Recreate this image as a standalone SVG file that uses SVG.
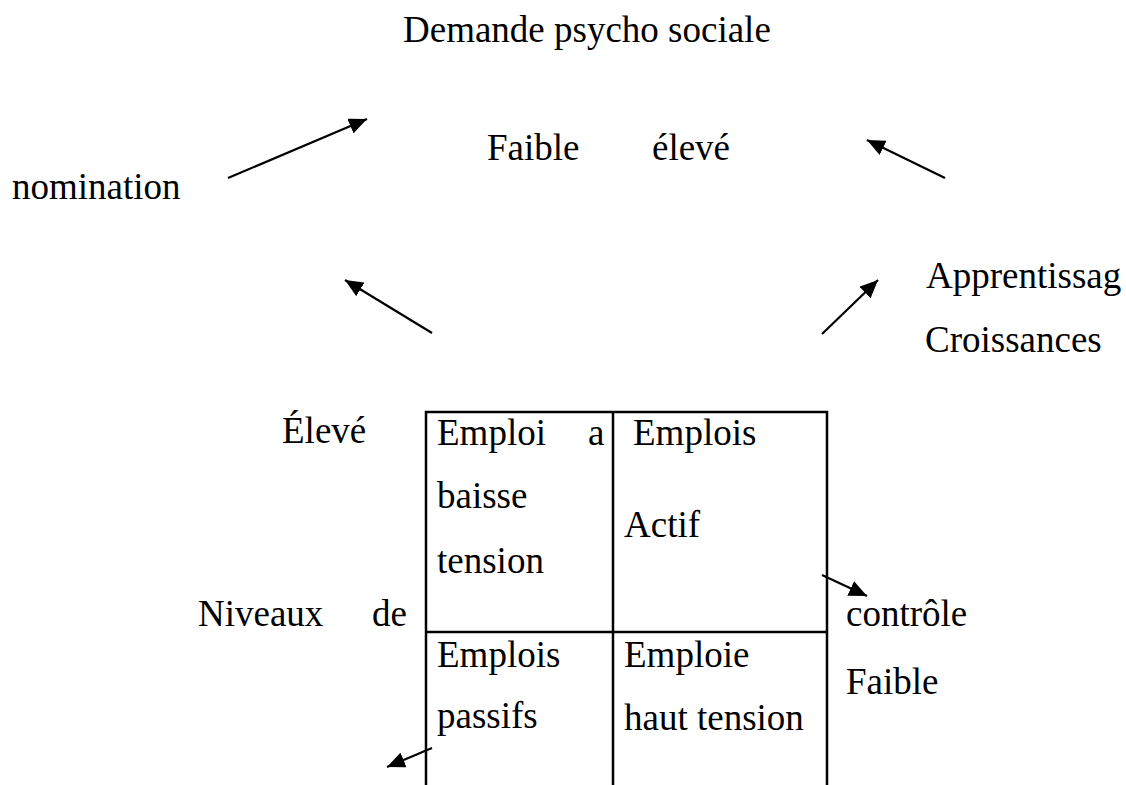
<svg xmlns="http://www.w3.org/2000/svg" width="1126" height="785" viewBox="0 0 1126 785">
<style>
text{font-family:"Liberation Serif","Times New Roman",serif;font-size:37px;fill:#000}
.c{stroke:#000;stroke-width:2.2;fill:none}
.t{stroke:#000;stroke-width:2.5;fill:none}
</style>
<defs>
<marker id="ah" markerUnits="userSpaceOnUse" markerWidth="20" markerHeight="16" refX="18" refY="8" orient="auto">
<path d="M0,0 L18,8 L0,16 Z" fill="#000"/>
</marker>
</defs>
<rect width="1126" height="785" fill="#fff"/>
<g id="title"><text x="403" y="42">Demande psycho sociale</text></g>
<g id="demande-levels"><text x="487" y="160">Faible</text><text x="652" y="160">élevé</text></g>
<g id="nomination"><text x="12" y="199">nomination</text></g>
<g id="apprentissage"><text x="926" y="288">Apprentissag</text><text x="925" y="352">Croissances</text></g>
<g id="eleve"><text x="282" y="443">Élevé</text></g>
<g id="niveaux"><text x="198" y="626">Niveaux</text><text x="372" y="626">de</text></g>
<g id="controle"><text x="846" y="626">contrôle</text><text x="846" y="694">Faible</text></g>
<g id="matrix">
<path class="t" d="M426,785 V412 H827 V785 M613,412 V785 M426,632 H827"/>
<g id="cell-baisse"><text x="437" y="445">Emploi</text><text x="588" y="445">a</text><text x="437" y="508">baisse</text><text x="437" y="573">tension</text></g>
<g id="cell-actif"><text x="633" y="445">Emplois</text><text x="624" y="537">Actif</text></g>
<g id="cell-passifs"><text x="437" y="667">Emplois</text><text x="437" y="728">passifs</text></g>
<g id="cell-haut"><text x="624" y="667">Emploie</text><text x="624" y="730">haut tension</text></g>
</g>
<g id="connectors">
<line class="c" x1="228" y1="178" x2="367" y2="119" marker-end="url(#ah)"/>
<line class="c" x1="945" y1="178" x2="867" y2="140" marker-end="url(#ah)"/>
<line class="c" x1="432" y1="333" x2="345" y2="280" marker-end="url(#ah)"/>
<line class="c" x1="822" y1="334" x2="878" y2="280" marker-end="url(#ah)"/>
<line class="c" x1="822" y1="575" x2="867" y2="596" marker-end="url(#ah)"/>
<line class="c" x1="432" y1="748" x2="387" y2="767" marker-end="url(#ah)"/>
</g>
</svg>
